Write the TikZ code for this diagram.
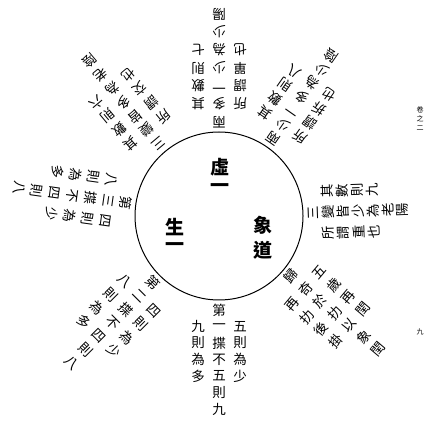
\documentclass[tikz,border=0pt]{standalone}
\usepackage{fontspec}
\newfontfamily\cjk{Noto Sans CJK TC}
\usetikzlibrary{calc}
\tikzset{
  rch/.style={font=\cjk\fontsize{13.5}{13.5}\selectfont, inner sep=0pt},
  cch/.style={font=\cjk\bfseries\fontsize{19}{19}\selectfont, inner sep=0pt},
  mch/.style={font=\cjk\fontsize{7}{7}\selectfont, inner sep=0pt},
  ring/.style={line width=1pt}
}
% #1 id, #2 angle, #3 step, #4 middle column, #5 reader's right column, #6 reader's left column
\newcommand\radblock[6]{%
  \pgfmathsetmacro\rbrot{#2+90}%
  \pgfmathsetmacro\rbrotl{#2+270}%
  \foreach \ch [count=\k from 0] in {#4} {
    \pgfmathsetmacro\dd{94+#3*\k}
    \node[rch, rotate=\rbrot] (#1m\k) at ($(c)+(#2:\dd pt)$) {\ch};
  }
  \foreach \ch [count=\k from 1] in {#5} {
    \pgfmathsetmacro\dd{94+#3*\k}
    \node[rch, rotate=\rbrot] (#1r\k) at ($(c)+(#2:\dd pt)+(\rbrot:21pt)$) {\ch};
  }
  \foreach \ch [count=\k from 1] in {#6} {
    \pgfmathsetmacro\dd{94+#3*\k}
    \node[rch, rotate=\rbrot] (#1l\k) at ($(c)+(#2:\dd pt)+(\rbrotl:21pt)$) {\ch};
  }
}
\begin{document}
\begin{tikzpicture}[x=1pt,y=1pt]
\useasboundingbox (0,0) rectangle (427,422);
\fill[white] (0,0) rectangle (427,422);
\coordinate (c) at (219,206);
\draw[ring] (c) circle[radius=84];
% centre words
\node[cch] (x1) at (220,255) {虛};
\node[cch] (x2) at (220,234) {一};
\node[cch] (s1) at (175,195) {生};
\node[cch] (s2) at (175,175) {一};
\node[cch] (d1) at (263,197) {象};
\node[cch] (d2) at (263,172) {道};
% radial blocks
\radblock{b}{270}{16.5}{第,一,揲,不,五,則,九}{五,則,為,少}{九,則,為,多}
\radblock{ll}{225}{19}{第,二,揲,不,四,則,八}{四,則,為,少}{八,則,為,多}
\radblock{lf}{172}{18}{第,三,揲,不,四,則,八}{四,則,為,少}{八,則,為,多}
\radblock{ul}{130}{18}{三,變,皆,多,為,老,陰}{其,數,則,六}{所,謂,交,也}
\radblock{t}{90}{18}{兩,多,一,少,為,少,陽}{其,數,則,七}{所,謂,單,也}
\radblock{ur}{55}{17}{兩,少,一,多,為,少,陰}{其,數,則,八}{所,謂,拆,也}
\radblock{rt}{2}{15}{三,變,皆,少,為,老,陽}{其,數,則,九}{所,謂,重,也}
\radblock{lr}{320}{19}{歸,奇,於,扐,以,象,閏}{五,歲,再,閏}{再,扐,後,掛}
% margin marks
\node[mch] (p1) at (420,312) {卷};
\node[mch] (p2) at (420,303) {之};
\node[mch] (p3) at (420,294) {二};
\node[mch] (p4) at (420,90) {九};
\end{tikzpicture}
\end{document}
